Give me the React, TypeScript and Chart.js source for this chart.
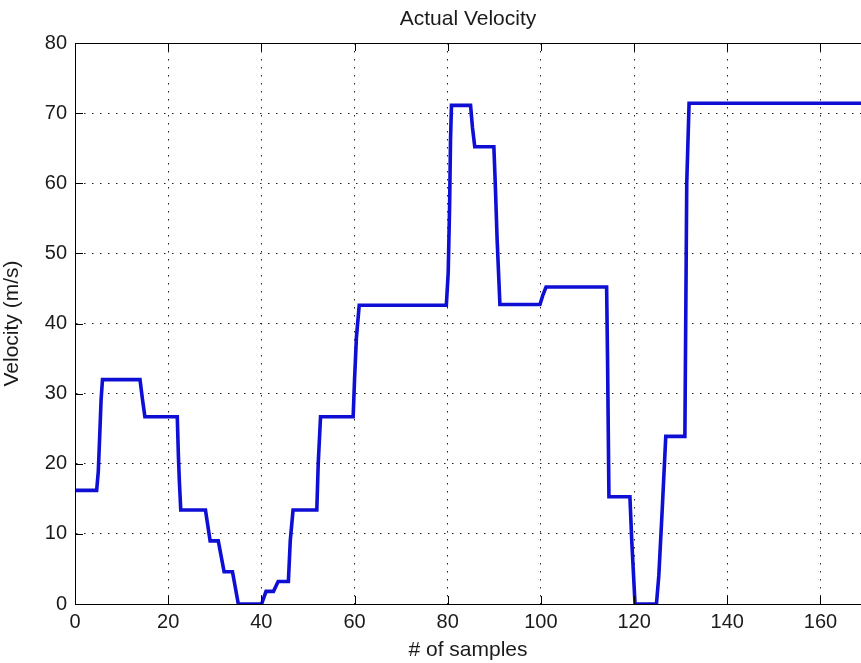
import React, { useEffect, useRef } from "react";
import { Chart, registerables } from "chart.js";

Chart.register(...registerables);

// Corner points of the staircase (sample #, m/s)
const sampleIndex = [
  0, 4.65, 5.0, 5.3, 5.6, 5.9, 13.95, 14.5, 15.0, 21.95, 22.2, 22.4, 22.7,
  28.0, 29.0, 30.75, 32.0, 33.8, 35.05, 40.05, 41.0, 42.6, 43.6, 45.8, 46.2,
  46.8, 51.9, 52.2, 52.7, 59.7, 60.0, 60.4, 61.0, 79.7, 80.1, 80.4, 80.6,
  80.8, 84.9, 85.3, 85.8, 89.9, 90.2, 90.6, 91.2, 99.8, 100.4, 101.1, 114.1,
  114.3, 114.6, 119.1, 119.5, 120.2, 124.8, 125.3, 126.0, 126.8, 130.9,
  131.3, 131.8, 172,
];
const velocity = [
  16.2, 16.2, 18.9, 23.9, 29.1, 32.0, 32.0, 29.1, 26.7, 26.7, 21.0, 17.5,
  13.4, 13.4, 9.0, 9.0, 4.6, 4.6, 0, 0, 1.8, 1.8, 3.2, 3.2, 9.0, 13.4, 13.4,
  20.0, 26.7, 26.7, 32.0, 38.0, 42.6, 42.6, 47.2, 56.7, 66.2, 71.1, 71.1,
  68.0, 65.2, 65.2, 60.0, 52.0, 42.7, 42.7, 44.0, 45.2, 45.2, 35.0, 15.3,
  15.3, 9.0, 0, 0, 4.0, 13.0, 23.9, 23.9, 60.0, 71.4, 71.4,
];

const xMin = 0;
const xMax = 168.7;
const xStep = 20;
const yMin = 0;
const yMax = 80;
const yStep = 10;

const chartTitle = "Actual Velocity";
const xTitle = "# of samples";
const yTitle = "Velocity (m/s)";

const FONT = "'Liberation Sans', Arial, sans-serif";

const framePlugin = {
  id: "matlabFrame",
  afterDatasetsDraw(chart: any) {
    const { ctx, chartArea, scales } = chart;
    const { left, right, top, bottom } = chartArea;
    ctx.save();
    ctx.strokeStyle = "#000";
    ctx.lineWidth = 1;
    ctx.setLineDash([]);
    ctx.beginPath();
    ctx.moveTo(Math.round(left) + 0.5, Math.round(top) + 0.5);
    ctx.lineTo(Math.round(left) + 0.5, Math.round(bottom) + 0.5);
    ctx.lineTo(right, Math.round(bottom) + 0.5);
    ctx.moveTo(Math.round(left) + 0.5, Math.round(top) + 0.5);
    ctx.lineTo(right, Math.round(top) + 0.5);
    const tl = 8;
    scales.x.ticks.forEach((t: any) => {
      const px = Math.round(scales.x.getPixelForValue(t.value)) + 0.5;
      ctx.moveTo(px, bottom);
      ctx.lineTo(px, bottom - tl);
      ctx.moveTo(px, top);
      ctx.lineTo(px, top + tl);
    });
    scales.y.ticks.forEach((t: any) => {
      const py = Math.round(scales.y.getPixelForValue(t.value)) + 0.5;
      ctx.moveTo(left, py);
      ctx.lineTo(left + tl, py);
    });
    ctx.stroke();
    ctx.restore();
  },
};

export default function App() {
  const ref = useRef<HTMLCanvasElement | null>(null);

  useEffect(() => {
    if (!ref.current) return;
    const points = sampleIndex.map((x, i) => ({ x, y: velocity[i] }));
    const chart = new Chart(ref.current, {
      type: "line",
      data: {
        datasets: [
          {
            data: points,
            borderColor: "rgb(14,14,212)",
            borderWidth: 3.6,
            pointRadius: 0,
            tension: 0,
            fill: false,
            borderJoinStyle: "miter",
          },
        ],
      },
      options: {
        animation: false,
        responsive: false,
        devicePixelRatio: 1,
        layout: { padding: 0 },
        plugins: {
          legend: { display: false },
          tooltip: { enabled: false },
          title: {
            display: true,
            text: chartTitle,
            fullSize: false,
            color: "#1a1a1a",
            font: { family: FONT, size: 21, weight: "normal", lineHeight: 1.2 },
            padding: { top: 7, bottom: 10.8 },
          },
        },
        scales: {
          x: {
            type: "linear",
            min: xMin,
            max: xMax,
            afterFit: (s: any) => {
              s.height = 59;
            },
            ticks: {
              stepSize: xStep,
              includeBounds: false,
              color: "#1a1a1a",
              font: { family: FONT, size: 20 },
              padding: 6,
              maxRotation: 0,
            },
            grid: {
              color: "#222",
              lineWidth: 1,
              drawTicks: false,
            },
            border: { display: true, color: "#000", width: 1, dash: [1.5, 6.5] },
            title: {
              display: true,
              text: xTitle,
              color: "#1a1a1a",
              font: { family: FONT, size: 21, lineHeight: 1.2 },
              padding: { top: 0, bottom: 0 },
            },
          },
          y: {
            type: "linear",
            min: yMin,
            max: yMax,
            afterFit: (s: any) => {
              s.width = 75;
            },
            ticks: {
              stepSize: yStep,
              color: "#1a1a1a",
              font: { family: FONT, size: 20 },
              padding: 8,
            },
            grid: {
              color: "#222",
              lineWidth: 1,
              drawTicks: false,
            },
            border: { display: true, color: "#000", width: 1, dash: [1.5, 6.5] },
            title: {
              display: true,
              text: yTitle,
              color: "#1a1a1a",
              font: { family: FONT, size: 21, lineHeight: 1.2 },
              padding: { top: 0, bottom: 0 },
            },
          },
        },
      },
      plugins: [framePlugin],
    } as any);
    return () => chart.destroy();
  }, []);

  return (
    <div
      style={{
        position: "fixed",
        left: 0,
        top: 0,
        width: 861,
        height: 663,
        overflow: "hidden",
        background: "#fff",
      }}
    >
      <canvas ref={ref} width={861} height={663} style={{ width: 861, height: 663, display: "block" }} />
    </div>
  );
}
